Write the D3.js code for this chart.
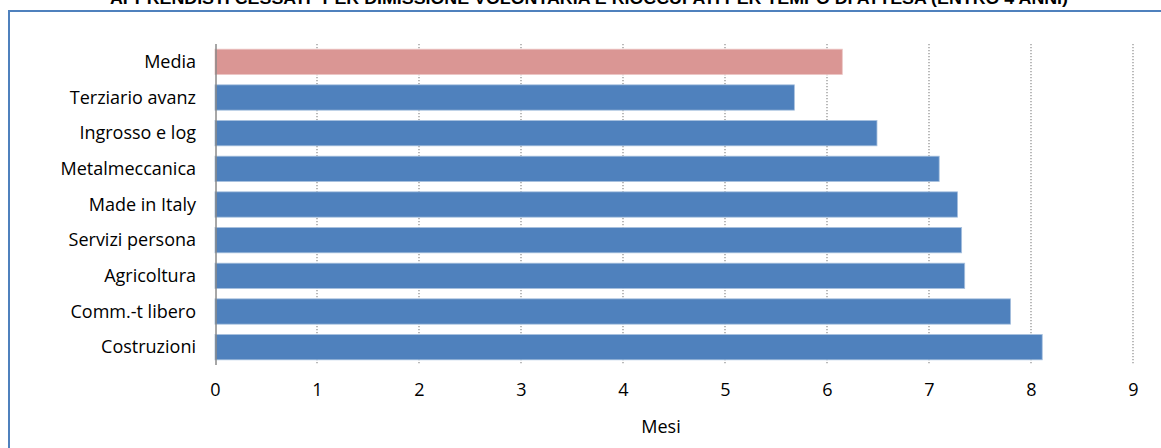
<!DOCTYPE html>
<html>
<head>
<meta charset="utf-8">
<script src="https://cdn.jsdelivr.net/npm/d3@7"></script>
<style>
  html, body { margin: 0; padding: 0; background: #fff; }
  svg { display: block; }
</style>
</head>
<body>
<svg id="chart" width="1161" height="448"></svg>
<script>
// Tempo di attesa medio (mesi) per settore
const categories = [
  "Media", "Terziario avanz", "Ingrosso e log", "Metalmeccanica",
  "Made in Italy", "Servizi persona", "Agricoltura", "Comm.-t libero", "Costruzioni"
];
const values = [6.15, 5.68, 6.49, 7.10, 7.28, 7.32, 7.35, 7.80, 8.11];
const xTicks = [0, 1, 2, 3, 4, 5, 6, 7, 8, 9];
const titleText = "APPRENDISTI CESSATI* PER DIMISSIONE VOLONTARIA E RIOCCUPATI PER TEMPO DI ATTESA (ENTRO 4 ANNI)";
const xTitle = "Mesi";

const svg = d3.select("#chart");
const font = "'Open Sans', Lato, sans-serif";
const fs = 18;

// chart frame (top and left edges visible)
svg.append("line").attr("x1", 9).attr("x2", 1161).attr("y1", 11).attr("y2", 11)
  .attr("stroke", "#4f81bd").attr("stroke-width", 2);
svg.append("line").attr("x1", 9).attr("x2", 9).attr("y1", 10).attr("y2", 448)
  .attr("stroke", "#4f81bd").attr("stroke-width", 2);

// title
svg.append("text")
  .attr("x", 110).attr("y", 4)
  .attr("textLength", 958).attr("lengthAdjust", "spacingAndGlyphs")
  .attr("font-family", "'Liberation Sans Narrow', 'Liberation Sans', Arial, sans-serif")
  .attr("font-weight", "bold").attr("font-size", 16).attr("fill", "#000")
  .text(titleText);

const x = d3.scaleLinear().domain([0, 9]).range([215, 1133]);
const y = d3.scaleBand().domain(categories).range([44, 365]).paddingInner(0.29).paddingOuter(0.145);

// dotted gridlines
svg.append("g").selectAll("line").data(xTicks.filter(d => d > 0)).join("line")
  .attr("x1", d => x(d)).attr("x2", d => x(d))
  .attr("y1", 44).attr("y2", 365)
  .attr("stroke", "#8c8c8c").attr("stroke-width", 1.2)
  .attr("stroke-dasharray", "1.2,1.8");

// bars
svg.append("g").selectAll("rect").data(categories).join("rect")
  .attr("x", x(0))
  .attr("y", d => y(d))
  .attr("width", (d, i) => x(values[i]) - x(0))
  .attr("height", y.bandwidth())
  .attr("fill", (d, i) => i === 0 ? "#da9694" : "#4f81bd")
  .attr("stroke", (d, i) => i === 0 ? "#ecc5c4" : "#a7c0de")
  .attr("stroke-width", 0.8);

// vertical axis line
svg.append("line").attr("x1", 216).attr("x2", 216).attr("y1", 44).attr("y2", 365)
  .attr("stroke", "#8a8a8a").attr("stroke-width", 1.5);

// category labels
svg.append("g").selectAll("text").data(categories).join("text")
  .attr("x", 196)
  .attr("y", d => y(d) + y.bandwidth() / 2)
  .attr("dy", "0.35em")
  .attr("text-anchor", "end")
  .attr("font-family", font).attr("font-size", fs).attr("fill", "#000")
  .text(d => d);

// x-axis tick labels
const xAxis = d3.axisBottom(x).tickValues(xTicks).tickSize(0).tickPadding(0).tickFormat(d3.format("d"));
const gx = svg.append("g").attr("transform", "translate(0,383)").call(xAxis);
gx.select(".domain").remove();
gx.selectAll("text").attr("font-family", font).attr("font-size", fs).attr("fill", "#000");

// axis title
svg.append("text")
  .attr("x", 661).attr("y", 427).attr("dy", "0.35em")
  .attr("text-anchor", "middle")
  .attr("font-family", font).attr("font-size", fs).attr("fill", "#000")
  .text(xTitle);
</script>
</body>
</html>
